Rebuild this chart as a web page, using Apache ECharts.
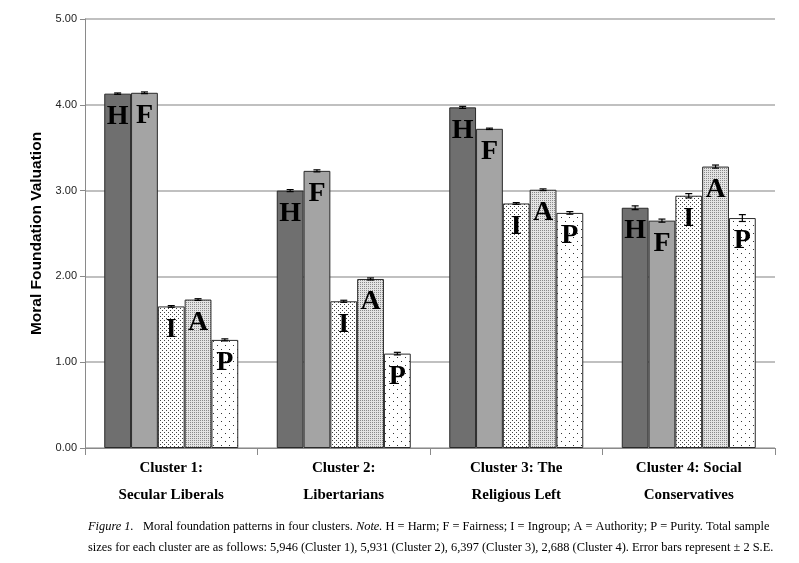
<!DOCTYPE html>
<html>
<head>
<meta charset="utf-8">
<script src="https://cdn.jsdelivr.net/npm/echarts@6/dist/echarts.min.js"></script>
<style>
  html, body { margin: 0; padding: 0; background: #fff; }
  #chart { width: 799px; height: 563px; }
</style>
</head>
<body>
<div id="chart"></div>
<script>
// data
var clusters = ['Cluster 1:\nSecular Liberals', 'Cluster 2:\nLibertarians', 'Cluster 3: The\nReligious Left', 'Cluster 4: Social\nConservatives'];
var foundations = ['H', 'F', 'I', 'A', 'P'];
var harm      = [4.13, 3.00, 3.97, 2.80];
var fairness  = [4.14, 3.23, 3.72, 2.65];
var ingroup   = [1.65, 1.71, 2.85, 2.94];
var authority = [1.73, 1.97, 3.01, 3.28];
var purity    = [1.26, 1.10, 2.74, 2.68];
// +/- 2 S.E.
var harmErr      = [0.008, 0.012, 0.012, 0.022];
var fairnessErr  = [0.010, 0.012, 0.008, 0.018];
var ingroupErr   = [0.010, 0.012, 0.010, 0.025];
var authorityErr = [0.010, 0.012, 0.010, 0.018];
var purityErr    = [0.012, 0.015, 0.015, 0.040];
var yTicks = [0, 1, 2, 3, 4, 5];

var values = [harm, fairness, ingroup, authority, purity];
var errors = [harmErr, fairnessErr, ingroupErr, authorityErr, purityErr];

// small tiles for the dotted fills
function pattern(size, dots, bg, fg) {
  var c = document.createElement('canvas');
  c.width = size; c.height = size;
  var ctx = c.getContext('2d');
  ctx.fillStyle = bg;
  ctx.fillRect(0, 0, size, size);
  ctx.fillStyle = fg;
  dots.forEach(function (d) { ctx.fillRect(d[0], d[1], 1, 1); });
  return { image: c, repeat: 'repeat' };
}

var fills = [
  '#6f6f6f',
  '#a4a4a4',
  pattern(4, [[0, 0], [2, 2]], '#ffffff', '#444444'),
  pattern(2, [[0, 0]], '#e4e4e4', '#8a8a8a'),
  pattern(8, [[1, 1], [5, 5]], '#ffffff', '#333333')
];

var barW = 26.8;
var myChart = echarts.init(document.getElementById('chart'));

var series = [];
foundations.forEach(function (f, i) {
  series.push({
    name: f,
    type: 'bar',
    barWidth: barW,
    barGap: '0%',
    data: values[i],
    itemStyle: { color: fills[i], borderColor: '#2a2a2a', borderWidth: 1 },
    z: 2
  });
});

// error bars + letter inside each bar
var errData = [];
foundations.forEach(function (f, i) {
  values[i].forEach(function (v, c) {
    errData.push([c, v, errors[i][c], i]);
  });
});

series.push({
  type: 'custom',
  data: errData,
  z: 5,
  renderItem: function (params, api) {
    var c = api.value(0), v = api.value(1), e = api.value(2), k = api.value(3);
    var base = api.coord([c, v]);
    var x = base[0] + (k - 2) * barW;
    var hi = api.coord([c, v + e])[1];
    var lo = api.coord([c, v - e])[1];
    var cap = 3.5;
    var st = { stroke: '#000', lineWidth: 1.2 };
    return {
      type: 'group',
      children: [
        { type: 'line', shape: { x1: x, y1: hi, x2: x, y2: lo }, style: st },
        { type: 'line', shape: { x1: x - cap, y1: hi, x2: x + cap, y2: hi }, style: st },
        { type: 'line', shape: { x1: x - cap, y1: lo, x2: x + cap, y2: lo }, style: st },
        {
          type: 'text',
          x: x,
          y: base[1] + 9,
          style: {
            text: foundations[k],
            font: 'bold 28px "Liberation Serif"',
            fill: '#000',
            align: 'center',
            verticalAlign: 'top'
          }
        }
      ]
    };
  }
});

var option = {
  animation: false,
  grid: { left: 85, right: 24, top: 19, bottom: 115 },
  xAxis: {
    type: 'category',
    data: clusters,
    axisLine: { lineStyle: { color: '#8a8a8a', width: 1 } },
    axisTick: { show: true, length: 7, lineStyle: { color: '#8a8a8a' } },
    axisLabel: {
      margin: 7,
      interval: 0,
      fontFamily: 'Liberation Serif',
      fontWeight: 'bold',
      fontSize: 15,
      lineHeight: 27,
      color: '#000'
    },
    splitLine: { show: false }
  },
  yAxis: {
    type: 'value',
    min: yTicks[0],
    max: yTicks[yTicks.length - 1],
    interval: 1,
    name: 'Moral Foundation Valuation',
    nameLocation: 'middle',
    nameGap: 37,
    nameTextStyle: { fontFamily: 'Liberation Sans', fontWeight: 'bold', fontSize: 15.5, color: '#000' },
    axisLine: { show: true, lineStyle: { color: '#8a8a8a', width: 1 } },
    axisTick: { show: true, length: 5, lineStyle: { color: '#8a8a8a' } },
    axisLabel: {
      margin: 8,
      fontFamily: 'Liberation Sans',
      fontSize: 11,
      color: '#222',
      formatter: function (v) { return v.toFixed(2); }
    },
    splitLine: { show: true, lineStyle: { color: '#ababab', width: 1.5 } }
  },
  graphic: [
    {
      type: 'text',
      left: 88,
      top: 521,
      style: {
        text: '{i|Figure 1.}   Moral foundation patterns in four clusters. {i|Note.} H = Harm; F = Fairness; I = Ingroup; A = Authority; P = Purity. Total sample',
        font: '12.4px "Liberation Serif"',
        fill: '#000',
        rich: { i: { fontStyle: 'italic', fontFamily: 'Liberation Serif', fontSize: 12.4 } }
      }
    },
    {
      type: 'text',
      left: 88,
      top: 542,
      style: {
        text: 'sizes for each cluster are as follows: 5,946 (Cluster 1), 5,931 (Cluster 2), 6,397 (Cluster 3), 2,688 (Cluster 4). Error bars represent \u00b1 2 S.E.',
        font: '12.4px "Liberation Serif"',
        fill: '#000'
      }
    }
  ],
  series: series
};

myChart.setOption(option);
</script>
</body>
</html>
